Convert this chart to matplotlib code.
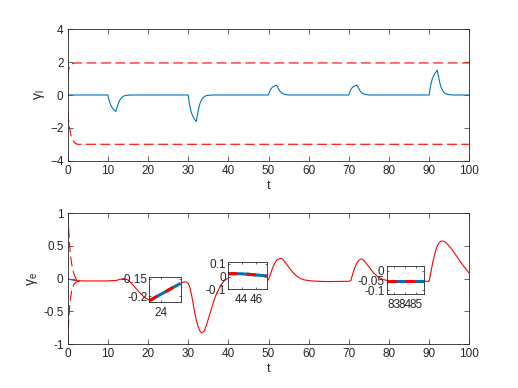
import matplotlib
matplotlib.use('Agg')
import matplotlib.pyplot as plt

plt.rcParams['font.family'] = ['Liberation Sans', 'DejaVu Sans']
plt.rcParams['mathtext.fontset'] = 'custom'
plt.rcParams['mathtext.rm'] = 'Liberation Sans'
plt.rcParams['mathtext.it'] = 'Liberation Sans:italic'

# ---- top panel: gamma_l ----
gl_t = [0, 10, 10.25, 10.5, 10.75, 11, 11.25, 11.5, 11.75, 12, 12.25, 12.5, 12.75, 13, 13.5, 14, 14.5, 15, 16,
        30, 30.25, 30.5, 30.75, 31, 31.25, 31.5, 31.75, 32, 32.25, 32.5, 32.75, 33, 33.5, 34, 34.5, 35, 36,
        50, 50.25, 50.5, 50.75, 51, 51.5, 52, 52.25, 52.5, 52.75, 53, 53.5, 54, 54.5, 55,
        70, 70.25, 70.5, 70.75, 71, 71.5, 72, 72.25, 72.5, 72.75, 73, 73.5, 74, 74.5, 75,
        90, 90.25, 90.5, 90.75, 91, 91.25, 91.5, 91.75, 92, 92.25, 92.5, 92.75, 93, 93.5, 94, 94.5, 95, 96, 100]
gl_y = [0, 0, -0.28, -0.48, -0.63, -0.74, -0.83, -0.9, -0.95, -1.0, -0.8, -0.59, -0.42, -0.29, -0.14, -0.06, -0.03, -0.01, 0,
        0, -0.45, -0.78, -1.02, -1.2, -1.34, -1.45, -1.54, -1.62, -1.3, -0.95, -0.68, -0.47, -0.22, -0.1, -0.04, -0.02, 0,
        0, 0.2, 0.33, 0.42, 0.48, 0.55, 0.6, 0.5, 0.38, 0.27, 0.19, 0.09, 0.04, 0.02, 0,
        0, 0.2, 0.33, 0.42, 0.48, 0.55, 0.6, 0.5, 0.38, 0.27, 0.19, 0.09, 0.04, 0.02, 0,
        0, 0.42, 0.72, 0.95, 1.1, 1.22, 1.33, 1.42, 1.52, 1.25, 0.92, 0.65, 0.45, 0.21, 0.09, 0.04, 0.02, 0, 0]

bound_t = [0, 0.25, 0.5, 0.75, 1.0, 1.5, 2.0, 2.5, 3.0, 100]
upper_l = [1.1, 1.55, 1.75, 1.84, 1.89, 1.93, 1.95, 1.95, 1.95, 1.95]
lower_l = [-1.05, -1.6, -2.05, -2.4, -2.6, -2.85, -2.96, -3.0, -3.0, -3.0]

# ---- bottom panel: gamma_e ----
ge_t = [1.5, 2, 4, 6, 8, 10, 11, 12, 13, 14, 15, 16, 17, 18, 19, 20, 20.5, 21, 22, 23, 24, 25, 26, 27, 28, 29, 29.5,
        30, 30.5, 31, 31.5, 32, 32.5, 33, 33.4, 34, 34.5, 35, 35.5, 36, 36.5, 37, 38, 39, 40, 41, 44, 47, 49, 49.5,
        50, 50.5, 51, 51.5, 52, 52.5, 53, 53.5, 54, 55, 56, 57, 58, 59, 60, 62, 65, 70,
        70.5, 71, 71.5, 72, 72.5, 73, 73.3, 74, 75, 76, 77, 78, 79, 80, 85, 90,
        90.5, 91, 91.5, 92, 92.5, 93, 93.5, 94, 95, 96, 97, 98, 99, 100]
ge_y = [-0.01, -0.03, -0.035, -0.035, -0.035, -0.035, -0.03, -0.03, -0.01, 0.0, -0.02, -0.08, -0.15, -0.22, -0.28, -0.32, -0.33, -0.33, -0.3, -0.25, -0.2, -0.16, -0.12, -0.09, -0.07, -0.05, -0.05,
        -0.07, -0.15, -0.3, -0.48, -0.63, -0.74, -0.81, -0.83, -0.8, -0.72, -0.62, -0.52, -0.42, -0.32, -0.24, -0.11, -0.03, 0.01, 0.02, 0.02, 0.01, 0.0, -0.01,
        -0.02, 0.07, 0.16, 0.23, 0.28, 0.3, 0.31, 0.3, 0.26, 0.18, 0.1, 0.04, 0.0, -0.02, -0.03, -0.04, -0.045, -0.04,
        -0.03, 0.08, 0.17, 0.24, 0.28, 0.3, 0.3, 0.26, 0.18, 0.1, 0.04, 0.0, -0.02, -0.035, -0.04, -0.04,
        0.12, 0.28, 0.4, 0.5, 0.55, 0.575, 0.575, 0.56, 0.5, 0.42, 0.33, 0.24, 0.16, 0.08]

ge_blue_t = [0, 0.5, 1.0, 1.5, 2.0]
ge_blue_y = [0, -0.01, -0.02, -0.025, -0.03]

bound_e_t = [0, 0.25, 0.5, 0.75, 1.0, 1.5, 2.0, 2.5, 3.0]
upper_e = [1.0, 0.75, 0.5, 0.33, 0.22, 0.08, 0.0, -0.03, -0.035]
lower_e = [-1.0, -0.65, -0.42, -0.28, -0.18, -0.09, -0.06, -0.045, -0.04]

# zoomed insets
in1_t = [23.0, 23.7, 24.4, 25.1, 25.8]
in1_y = [-0.213, -0.200, -0.188, -0.175, -0.163]
in2_t = [42.15, 43, 44, 45, 46, 47, 47.5]
in2_y = [0.022, 0.023, 0.022, 0.018, 0.013, 0.008, 0.005]
in3_t = [82.4, 83, 84, 85, 85.7]
in3_y = [-0.05, -0.05, -0.05, -0.05, -0.05]

blue = '#0072BD'
red = '#FF0000'
dark = '#262626'

fig = plt.figure(figsize=(5.18, 3.88), dpi=100)


def style(ax, fs=8.5, tl=3.5):
    ax.tick_params(direction='in', top=True, right=True, length=tl, width=0.5,
                   colors=dark, labelsize=fs, pad=3)
    for s in ax.spines.values():
        s.set_color(dark)
        s.set_linewidth(0.6)


ax1 = fig.add_axes([0.1307, 0.5858, 0.7753, 0.3387])
ax1.plot(gl_t, gl_y, color=blue, lw=0.8)
ax1.plot(bound_t, upper_l, color=red, lw=0.8, ls=(0, (9, 4)))
ax1.plot(bound_t, lower_l, color=red, lw=0.8, ls=(0, (9, 4)))
ax1.set_xlim(0, 100)
ax1.set_ylim(-4, 4)
ax1.set_xticks(range(0, 101, 10))
ax1.set_yticks([-4, -2, 0, 2, 4])
ax1.set_xlabel('t', fontsize=9, color=dark, labelpad=2)
ax1.set_ylabel(r'$\mathrm{\gamma_l}$', fontsize=10, color=dark, labelpad=2)
style(ax1)

ax2 = fig.add_axes([0.1307, 0.1134, 0.7753, 0.3369])
ax2.plot(ge_blue_t, ge_blue_y, color=blue, lw=0.8)
ax2.plot(ge_t, ge_y, color=red, lw=0.8)
ax2.plot(bound_e_t, upper_e, color=red, lw=0.8, ls=(0, (9, 4)))
ax2.plot(bound_e_t, lower_e, color=red, lw=0.8, ls=(0, (9, 4)))
ax2.set_xlim(0, 100)
ax2.set_ylim(-1, 1)
ax2.set_xticks(range(0, 101, 10))
ax2.set_yticks([-1, -0.5, 0, 0.5, 1])
ax2.set_yticklabels(['-1', '-0.5', '0', '0.5', '1'])
ax2.set_xlabel('t', fontsize=9, color=dark, labelpad=2)
ax2.set_ylabel(r'$\mathrm{\gamma_e}$', fontsize=10, color=dark, labelpad=2)
style(ax2)

insets = [
    ([0.2886, 0.2224, 0.0602, 0.0624], in1_t, in1_y, (23.0, 25.8), (-0.216, -0.146), [24], [-0.2, -0.15]),
    ([0.4407, 0.2539, 0.0741, 0.0696], in2_t, in2_y, (42.15, 47.5), (-0.1, 0.11), [44, 46], [-0.1, 0, 0.1]),
    ([0.7465, 0.2415, 0.0726, 0.0729], in3_t, in3_y, (82.4, 85.7), (-0.12, 0.025), [83, 84, 85], [-0.1, -0.05, 0]),
]
for pos, tt, yy, xl, yl, xt, yt in insets:
    ax = fig.add_axes(pos)
    ax.plot(tt, yy, color=blue, lw=2.2, solid_capstyle='butt')
    ax.plot(tt, yy, color=red, lw=2.2, ls=(0, (3, 3)), dash_capstyle='butt')
    ax.set_xlim(*xl)
    ax.set_ylim(*yl)
    ax.set_xticks(xt)
    ax.set_yticks(yt)
    ax.set_yticklabels([('%g' % v) for v in yt])
    style(ax, fs=8.5, tl=1.5)
    ax.tick_params(axis='x', pad=3.5)
    ax.tick_params(axis='y', pad=1.5)

fig.savefig('out.png', dpi=100)
